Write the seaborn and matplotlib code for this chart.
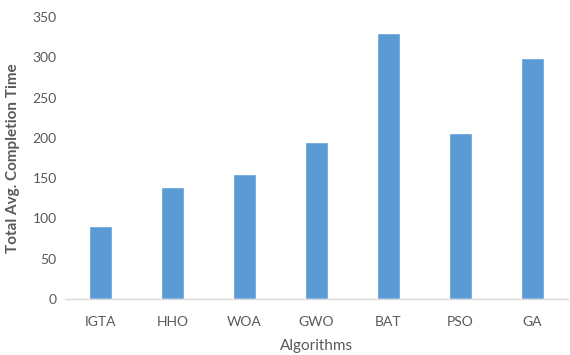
import matplotlib
matplotlib.use("Agg")
import matplotlib.pyplot as plt
import seaborn as sns
import pandas as pd

algorithms = ["IGTA", "HHO", "WOA", "GWO", "BAT", "PSO", "GA"]
completion_time = [91, 139, 155, 195, 330, 206, 299]
y_ticks = [0, 50, 100, 150, 200, 250, 300, 350]

df = pd.DataFrame({"Algorithm": algorithms, "Time": completion_time})

sns.set_theme(style="white")
plt.rcParams["font.family"] = ["Lato", "DejaVu Sans"]

fig = plt.figure(figsize=(5.7, 3.55), dpi=100)
ax = fig.add_axes([65 / 570, 1 - 299 / 355, 503 / 570, 282 / 355])

sns.barplot(data=df, x="Algorithm", y="Time", color="#5B9BD5",
            width=0.32, saturation=1, ax=ax)

ax.set_ylim(0, 350)
ax.set_yticks(y_ticks)
ax.set_xlim(-0.5, len(algorithms) - 0.5)
text_color = "#595959"
ax.tick_params(axis="both", labelsize=10, colors=text_color, length=0, pad=6)
ax.tick_params(axis="x", pad=12)
for s in ["top", "right", "left"]:
    ax.spines[s].set_visible(False)
ax.spines["bottom"].set_color("#D9D9D9")
ax.spines["bottom"].set_linewidth(1)

ax.set_xlabel("Algorithms", fontsize=11, color=text_color, labelpad=8)
ax.set_ylabel("Total Avg. Completion Time", fontsize=11, color=text_color,
              fontweight="bold", labelpad=9)

fig.savefig("out.png", dpi=100)
